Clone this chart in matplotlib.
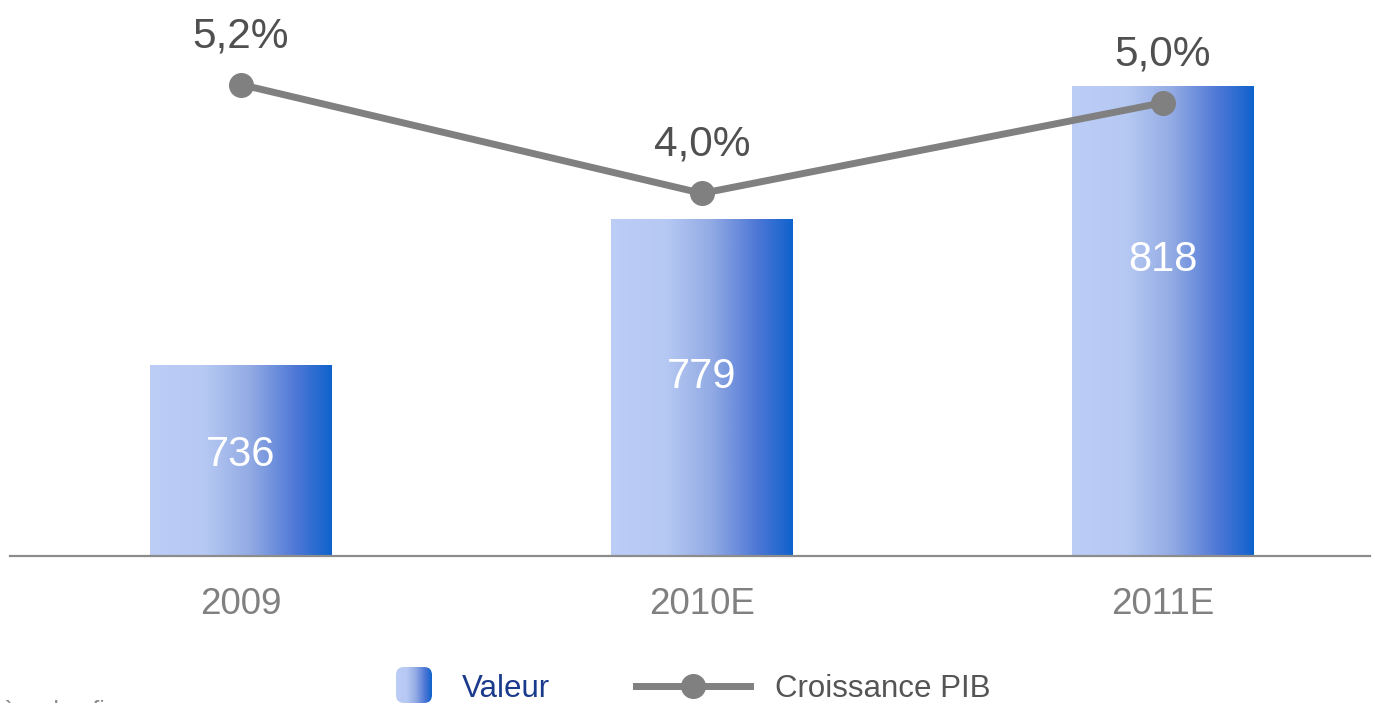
import numpy as np
import matplotlib
matplotlib.use("Agg")
import matplotlib.pyplot as plt
from matplotlib.colors import LinearSegmentedColormap
from matplotlib.patches import FancyBboxPatch
from matplotlib.lines import Line2D

plt.rcParams['font.family'] = ['Liberation Sans', 'DejaVu Sans']

# data
years = ['2009', '2010E', '2011E']
valeur = [736, 779, 818]
croissance = [5.2, 4.0, 5.0]
croissance_labels = ['5,2%', '4,0%', '5,0%']

# where the white value labels sit inside each bar (fraction of visible bar height)
label_frac = [0.53, 0.53, 0.63]

grey_line = '#808080'
grad_cmap = LinearSegmentedColormap.from_list(
    'bar_grad',
    [(0.0, '#bccdf6'), (0.3, '#b6c9f3'), (0.55, '#93abe4'),
     (0.8, '#4f78d6'), (1.0, '#0f62cc')])
grad = np.linspace(0, 1, 256).reshape(1, -1)

fig = plt.figure(figsize=(13.81, 7.03), dpi=100)
W, H = 1381, 703
ax = fig.add_axes([10 / W, (H - 556) / H, 1360 / W, 556 / H])

ymin, ymax = 680, 843.1
x = np.arange(len(years))
bars = ax.bar(x, valeur, width=0.393, color='none', zorder=2)
for bar in bars:
    x0, w = bar.get_x(), bar.get_width()
    # gradient image only over the visible part of the bar
    im = ax.imshow(grad, cmap=grad_cmap, aspect='auto',
                   extent=(x0, x0 + w, ymin, bar.get_height()), zorder=2)
    im.set_clip_path(bar)

ax.set_xlim(-0.501, 2.449)
ax.set_ylim(ymin, ymax)

for xi, v, f in zip(x, valeur, label_frac):
    ax.text(xi, ymin + (v - ymin) * f, str(v), ha='center', va='center',
            color='white', fontsize=30)

for s in ['top', 'left', 'right']:
    ax.spines[s].set_visible(False)
ax.spines['bottom'].set_color('#8c8c8c')
ax.spines['bottom'].set_linewidth(1.6)
ax.spines['bottom'].set_zorder(3)
ax.set_yticks([])
ax.set_xticks(x)
ax.set_xticklabels(years, fontsize=26.5, color='#808080')
ax.tick_params(axis='x', length=0, pad=22)

# growth line on secondary axis
ax2 = ax.twinx()
ax2.plot(x, croissance, color=grey_line, linewidth=5, marker='o',
         markersize=17, zorder=3)
ax2.set_ylim(0, 6.133)
ax2.set_yticks([])
for s in ax2.spines.values():
    s.set_visible(False)
for xi, c, lab in zip(x, croissance, croissance_labels):
    ax2.annotate(lab, (xi, c), xytext=(0, 27), textcoords='offset points',
                 ha='center', va='baseline', fontsize=30.5, color='#505050')

# legend drawn by hand
lax = fig.add_axes([396 / W, 0, 36 / W, 36 / H])
lax.set_axis_off()
lim = lax.imshow(grad, cmap=grad_cmap, aspect='auto', extent=(0, 1, 0, 1))
clip = FancyBboxPatch((0, 0), 1, 1, boxstyle='round,pad=0,rounding_size=0.22',
                      transform=lax.transData, facecolor='none', edgecolor='none')
lax.add_patch(clip)
lim.set_clip_path(clip)
lax.set_xlim(0, 1)
lax.set_ylim(0, 1)

ly = (H - 686) / H
ty = (H - 689) / H
fig.text(462 / W, ty, 'Valeur', fontsize=22.5, color='#1a3a8c', va='center')
fig.add_artist(Line2D([636 / W, 750 / W], [ly, ly], color=grey_line,
                      linewidth=5, transform=fig.transFigure))
fig.add_artist(Line2D([693 / W], [ly], color=grey_line, marker='o',
                      markersize=17, transform=fig.transFigure))
fig.text(775 / W, ty, 'Croissance PIB', fontsize=22.5, color='#555555', va='center')

# source line, mostly cut off at the bottom edge as in the reference
fig.text(2 / W, 3 / H, 'ère des finances', fontsize=18, color='#888888', va='top')

fig.savefig('out.png', dpi=100)
